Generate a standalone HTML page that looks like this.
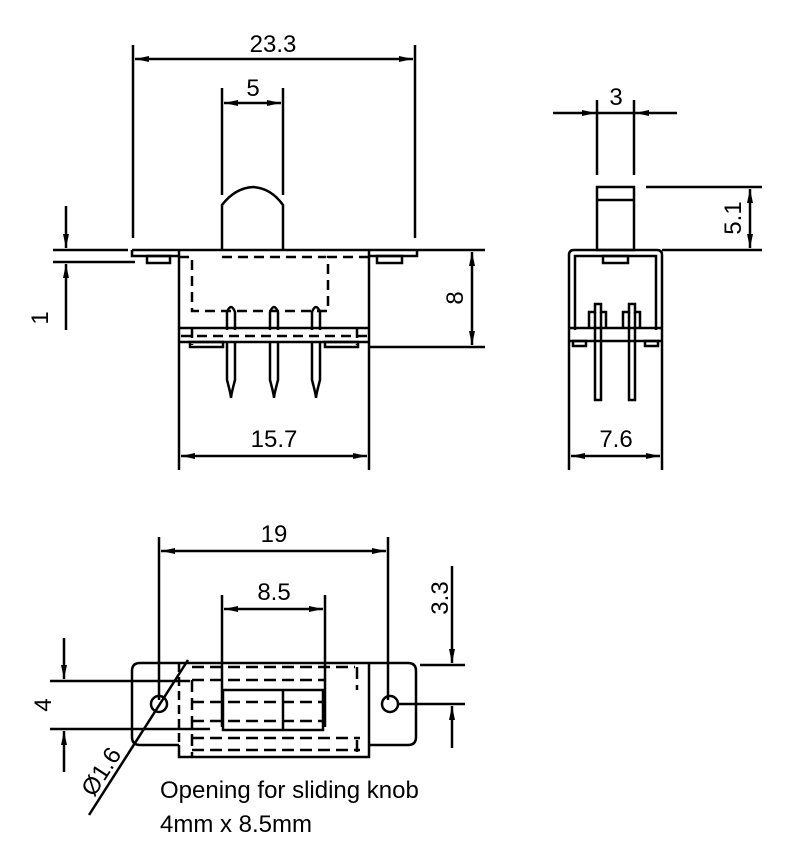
<!DOCTYPE html>
<html><head><meta charset="utf-8"><style>
html,body{margin:0;padding:0;background:#fff;}
svg{display:block;}
text{font-family:"Liberation Sans",Arial,sans-serif;font-size:24px;fill:#000;}
</style></head><body>
<svg width="794" height="857" viewBox="0 0 794 857" xmlns="http://www.w3.org/2000/svg">
<defs>
<marker id="a" viewBox="0 0 14 6" refX="14" refY="3" markerWidth="14" markerHeight="6" markerUnits="userSpaceOnUse" orient="auto-start-reverse"><path d="M0,0 L14,3 L0,6 z" fill="#000"/></marker>
</defs>
<g stroke="#000" stroke-width="2.5" fill="none">
<line x1="133" y1="45" x2="133" y2="238"/>
<line x1="415" y1="45" x2="415" y2="238"/>
<line x1="135" y1="59" x2="413" y2="59" marker-start="url(#a)" marker-end="url(#a)"/>
<line x1="222" y1="88" x2="222" y2="195"/>
<line x1="283" y1="88" x2="283" y2="195"/>
<line x1="224" y1="103" x2="281" y2="103" marker-start="url(#a)" marker-end="url(#a)"/>
<path d="M222,250 L222,205 Q235,188 253,187 Q271,188 283,205 L283,250"/>
<line x1="53" y1="250" x2="128" y2="250"/>
<line x1="53" y1="262" x2="135" y2="262"/>
<line x1="132" y1="250" x2="485" y2="250"/>
<path d="M132,250 L132,256 L179,256"/>
<path d="M370,256 L417,256 L417,250"/>
<rect x="147" y="256" width="23" height="7"/>
<rect x="377" y="256" width="25" height="7"/>
<line x1="66" y1="206" x2="66" y2="248" marker-end="url(#a)"/>
<line x1="66" y1="330" x2="66" y2="264" marker-end="url(#a)"/>
<line x1="179" y1="250" x2="179" y2="470"/>
<line x1="369" y1="250" x2="369" y2="470"/>
<line x1="179" y1="342" x2="369" y2="342"/>
<line x1="369" y1="347" x2="485" y2="347"/>
<rect x="190" y="342" width="33" height="5"/>
<rect x="325" y="342" width="33" height="5"/>
<line x1="179" y1="328" x2="369" y2="328"/>
<g stroke-dasharray="10,6">
<path d="M179,257 L192,257 L192,311 L328,311 L328,257 L369,257"/>
<line x1="181" y1="336" x2="369" y2="336"/>
<line x1="192" y1="328" x2="192" y2="345"/>
<line x1="357" y1="328" x2="357" y2="345"/>
<line x1="222" y1="257" x2="326" y2="257"/>
</g>
<path d="M227,342 L227,380 Q231,395 231,398 Q231,395 235,380 L235,342"/>
<path d="M270,342 L270,380 Q274,395 274,398 Q274,395 278,380 L278,342"/>
<path d="M312,342 L312,380 Q316,395 316,398 Q316,395 320,380 L320,342"/>
<path d="M227,330 L227,312 Q231,302 235,312 L235,330"/>
<path d="M270,330 L270,312 Q274,302 278,312 L278,330"/>
<path d="M312,330 L312,312 Q316,302 320,312 L320,330"/>
<line x1="472" y1="252" x2="472" y2="345" marker-start="url(#a)" marker-end="url(#a)"/>
<line x1="181" y1="456" x2="367" y2="456" marker-start="url(#a)" marker-end="url(#a)"/>

<line x1="597" y1="100" x2="597" y2="175"/>
<line x1="634" y1="100" x2="634" y2="175"/>
<line x1="553" y1="113" x2="596" y2="113" marker-end="url(#a)"/>
<line x1="677" y1="113" x2="635" y2="113" marker-end="url(#a)"/>
<line x1="597" y1="113" x2="634" y2="113"/>
<rect x="597" y="187" width="37" height="63"/>
<line x1="597" y1="200" x2="634" y2="200"/>
<line x1="646" y1="187" x2="762" y2="187"/>
<line x1="662" y1="250" x2="762" y2="250"/>
<line x1="750" y1="189" x2="750" y2="248" marker-start="url(#a)" marker-end="url(#a)"/>
<path d="M569,470 L569,255 Q569,250 574,250 L657,250 Q662,250 662,255 L662,470"/>
<path d="M575,330 L575,256 L656,256 L656,330"/>
<rect x="603" y="256" width="25" height="7"/>
<line x1="569" y1="328" x2="662" y2="328"/>
<line x1="569" y1="341" x2="662" y2="341"/>
<rect x="573" y="341" width="13" height="5"/>
<rect x="645" y="341" width="13" height="5"/>
<path d="M589,328 L589,312 L595,312 L595,304 L601,304 L601,312 L606,312 L606,328"/>
<path d="M623,328 L623,312 L629,312 L629,304 L635,304 L635,312 L640,312 L640,328"/>
<path d="M595,312 L595,400 L601,400 L601,312"/>
<path d="M629,312 L629,400 L635,400 L635,312"/>
<line x1="571" y1="456" x2="660" y2="456" marker-start="url(#a)" marker-end="url(#a)"/>

<line x1="159" y1="537" x2="159" y2="700"/>
<line x1="388" y1="537" x2="388" y2="700"/>
<line x1="161" y1="551" x2="386" y2="551" marker-start="url(#a)" marker-end="url(#a)"/>
<line x1="222" y1="595" x2="222" y2="727"/>
<line x1="325" y1="595" x2="325" y2="727"/>
<line x1="224" y1="609" x2="323" y2="609" marker-start="url(#a)" marker-end="url(#a)"/>
<path d="M140,663 L408,663 Q416,663 416,671 L416,737 Q416,745 408,745 L370,745"/>
<path d="M179,745 L140,745 Q132,745 132,737 L132,671 Q132,663 140,663"/>
<path d="M179,745 L179,757 L369,757 L369,663"/>
<line x1="179" y1="663" x2="179" y2="745" stroke-dasharray="9,5"/>
<g stroke-dasharray="12,6">
<line x1="192" y1="667" x2="355" y2="667"/>
<line x1="192" y1="680" x2="326" y2="680"/>
<line x1="192" y1="702" x2="326" y2="702"/>
<line x1="192" y1="721" x2="326" y2="721"/>
<line x1="192" y1="738" x2="360" y2="738"/>
<line x1="192" y1="750" x2="360" y2="750"/>
<line x1="192" y1="680" x2="192" y2="757"/>
<line x1="357" y1="667" x2="357" y2="690"/>
<line x1="357" y1="740" x2="357" y2="757"/>
</g>
<rect x="223" y="690" width="100" height="40"/>
<line x1="283" y1="690" x2="283" y2="730"/>
<circle cx="159" cy="704" r="8"/>
<circle cx="390" cy="704" r="8"/>
<line x1="398" y1="704" x2="465" y2="704"/>
<line x1="420" y1="665" x2="465" y2="665"/>
<line x1="452" y1="566" x2="452" y2="663" marker-end="url(#a)"/>
<line x1="452" y1="748" x2="452" y2="706" marker-end="url(#a)"/>
<line x1="50" y1="681" x2="190" y2="681"/>
<line x1="50" y1="729" x2="210" y2="729"/>
<line x1="64" y1="638" x2="64" y2="679" marker-end="url(#a)"/>
<line x1="64" y1="772" x2="64" y2="731" marker-end="url(#a)"/>
<line x1="188" y1="660" x2="89" y2="815"/>
</g>
<g stroke="none">
<text x="273" y="52" text-anchor="middle">23.3</text>
<text x="253" y="96" text-anchor="middle">5</text>
<text transform="translate(48,318) rotate(-90)" text-anchor="middle">1</text>
<text transform="translate(463,298) rotate(-90)" text-anchor="middle">8</text>
<text x="274" y="447" text-anchor="middle">15.7</text>
<text x="616" y="105" text-anchor="middle">3</text>
<text transform="translate(741,218) rotate(-90)" text-anchor="middle">5.1</text>
<text x="616" y="447" text-anchor="middle">7.6</text>
<text x="274" y="542" text-anchor="middle">19</text>
<text x="274" y="600" text-anchor="middle">8.5</text>
<text transform="translate(448,598) rotate(-90)" text-anchor="middle">3.3</text>
<text transform="translate(51,705) rotate(-90)" text-anchor="middle">4</text>
<text transform="translate(108,776) rotate(-57)" text-anchor="middle">Ø1.6</text>
<text x="160" y="798">Opening for sliding knob</text>
<text x="160" y="832">4mm x 8.5mm</text>
</g>
</svg>
</body></html>
